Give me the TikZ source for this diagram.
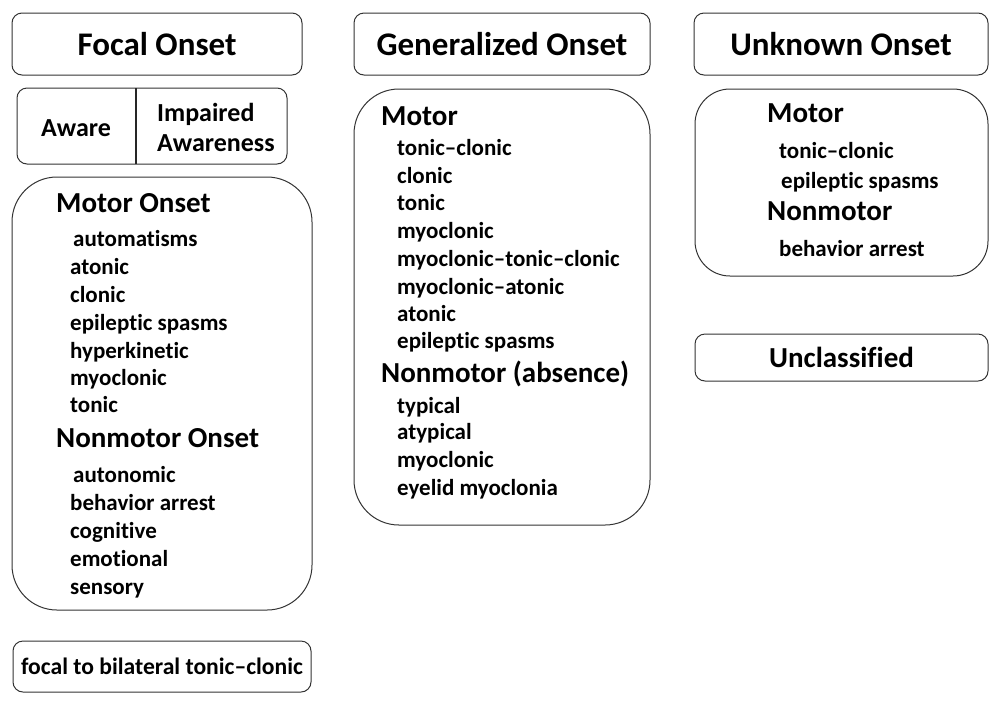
\documentclass[tikz,border=0pt]{standalone}
\usepackage{fontspec}
\setmainfont{Carlito}[Ligatures={TeX,NoCommon}]
\usetikzlibrary{positioning}
\begin{document}
\begin{tikzpicture}[x=1pt,y=-1pt,
  every node/.style={font=\bfseries},
  box/.style={draw=black!80, line width=1pt, rounded corners=10pt, inner sep=0pt},
  bigbox/.style={draw=black!80, line width=1pt, rounded corners=45pt, inner sep=0pt},
  title/.style={font=\fontsize{33}{36}\selectfont\bfseries},
  head/.style={anchor=west, inner sep=0pt, yshift=-7pt, text height=0.7em, text depth=0.2em, font=\fontsize{29}{32}\selectfont\bfseries},
  item/.style={anchor=west, inner sep=0pt, yshift=-6pt, text height=0.7em, text depth=0.2em, font=\fontsize{23}{26}\selectfont\bfseries},
  mid/.style={inner sep=0pt, font=\fontsize{26}{30}\selectfont\bfseries, align=left}]
\useasboundingbox (0,0) rectangle (1000,705);
% Focal column
\node[box, minimum width=290pt, minimum height=62pt] (focal) at (157,44) {};
\node[title] (focalt) at (focal.center) {Focal Onset};
\node[box, minimum width=270pt, minimum height=76pt] (aware) at (152,126) {};
\coordinate (divt) at (136,88);
\coordinate (divb) at (136,164);
\draw[line width=2.4pt, black!85] (divt) -- (divb);
\node[mid] (awaret) at (76,128) {Aware};
\node[mid, anchor=west] (impt) at (157,127) {Impaired\\Awareness};
\node[bigbox, minimum width=300pt, minimum height=433pt] (focalbox) at (162,393.5) {};
\node[head] (fmo) at (56,203) {Motor Onset};
\node[item] (f1) at (73,238) {automatisms};
\node[item] (f2) at (70,266) {atonic};
\node[item] (f3) at (70,294) {clonic};
\node[item] (f4) at (70,322) {epileptic spasms};
\node[item] (f5) at (70,350) {hyperkinetic};
\node[item] (f6) at (70,377) {myoclonic};
\node[item] (f7) at (70,404) {tonic};
\node[head] (fno) at (56,438) {Nonmotor Onset};
\node[item] (f8) at (73,474) {autonomic};
\node[item] (f9) at (70,502) {behavior arrest};
\node[item] (f10) at (70,530) {cognitive};
\node[item] (f11) at (70,558) {emotional};
\node[item] (f12) at (70,586) {sensory};
\node[box, minimum width=298pt, minimum height=51pt, font=\fontsize{23.6}{26}\selectfont\bfseries] (fbtc) at (162,666.5) {focal to bilateral tonic–clonic};
% Generalized column
\node[box, minimum width=296pt, minimum height=62pt] (gen) at (502,44) {};
\node[title] (gent) at (gen.center) {Generalized Onset};
\node[bigbox, minimum width=296pt, minimum height=436pt] (genbox) at (502,307) {};
\node[head] (gm) at (381,116) {Motor};
\node[item] (g1) at (397,147) {tonic–clonic};
\node[item] (g2) at (397,175) {clonic};
\node[item] (g3) at (397,202) {tonic};
\node[item] (g4) at (397,230) {myoclonic};
\node[item] (g5) at (397,258) {myoclonic–tonic–clonic};
\node[item] (g6) at (397,286) {myoclonic–atonic};
\node[item] (g7) at (397,313) {atonic};
\node[item] (g8) at (397,340) {epileptic spasms};
\node[head] (gn) at (381,373) {Nonmotor (absence)};
\node[item] (g9) at (397,405) {typical};
\node[item] (g10) at (397,431) {atypical};
\node[item] (g11) at (397,459) {myoclonic};
\node[item] (g12) at (397,487) {eyelid myoclonia};
% Unknown column
\node[box, minimum width=294pt, minimum height=62pt] (unk) at (841,44) {};
\node[title] (unkt) at (unk.center) {Unknown Onset};
\node[box, rounded corners=35pt, minimum width=293pt, minimum height=187pt] (unkbox) at (841.5,182.5) {};
\node[head] (um) at (767,113) {Motor};
\node[item] (u1) at (779,150) {tonic–clonic};
\node[item] (u2) at (781,180) {epileptic spasms};
\node[head] (un) at (767,211) {Nonmotor};
\node[item] (u3) at (779,248) {behavior arrest};
\node[box, minimum width=293pt, minimum height=47pt, font=\fontsize{29}{32}\selectfont\bfseries] (uncl) at (841.5,357.5) {Unclassified};
\end{tikzpicture}
\end{document}
